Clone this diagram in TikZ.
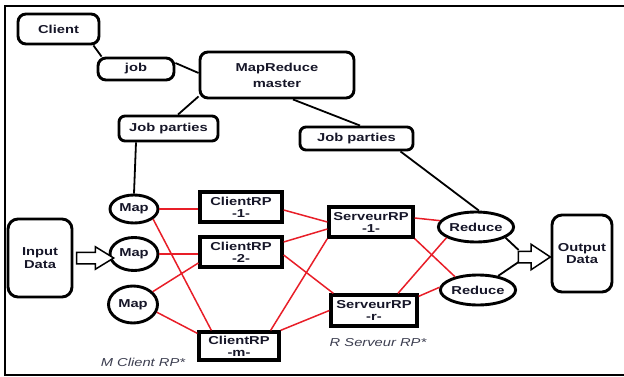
\documentclass[tikz,border=0pt]{standalone}
\usepackage{fontspec}
\setmainfont[FakeStretch=1.28]{Liberation Sans}
\usetikzlibrary{shapes.geometric,shapes.arrows,calc}
\definecolor{txt}{RGB}{22,22,40}
\definecolor{lbl}{RGB}{60,62,80}
\definecolor{redl}{RGB}{232,30,40}
\tikzset{
  rbox/.style={draw, line width=2.9pt, rounded corners=8pt, inner sep=0pt, align=center,
    font=\fontsize{11.5}{12.5}\selectfont\bfseries, text=txt},
  sbox/.style={draw, line width=3.3pt, inner sep=0pt, align=center,
    font=\fontsize{11.5}{12}\selectfont\bfseries, text=txt},
  ell/.style={draw, ellipse, line width=2.9pt, inner sep=0pt,
    font=\fontsize{11.5}{12}\selectfont\bfseries, text=txt},
  blk/.style={line width=1.8pt, black},
  rd/.style={line width=1.5pt, redl},
  harrow/.style={draw, single arrow, line width=1.5pt, inner xsep=0pt, inner ysep=5pt, fill=white},
  lab/.style={font=\fontsize{11.5}{12}\selectfont\itshape, text=lbl, inner sep=0pt}
}
\begin{document}
\begin{tikzpicture}[x=1pt,y=-1pt]
\useasboundingbox (0,0) rectangle (624,377);
% frame
\draw[line width=1.5pt] (624,6) -- (5,6) -- (5,375) -- (624,375);

% nodes
\node[rbox, minimum width=81, minimum height=30] (client) at (58.5,29) {Client};
\node[rbox, minimum width=76, minimum height=22] (job) at (136,69) {job};
\node[rbox, minimum width=154, minimum height=46, font=\fontsize{11.5}{16}\selectfont\bfseries] (master) at (277,75) {MapReduce\\master};
\node[rbox, rounded corners=6pt, minimum width=99, minimum height=25] (jp1) at (168.5,128.5) {Job parties};
\node[rbox, rounded corners=6pt, minimum width=113, minimum height=23] (jp2) at (356.5,138.5) {Job parties};

\node[ell, minimum width=48, minimum height=28] (map1) at (134,209) {Map};
\node[ell, minimum width=48, minimum height=33] (map2) at (134,254) {Map};
\node[ell, minimum width=49, minimum height=37] (map3) at (133,304.5) {Map};

\node[rbox, rounded corners=10pt, minimum width=64, minimum height=78] (input) at (40,258) {Input\\Data};
\node[rbox, rounded corners=10pt, minimum width=60, minimum height=77] (output) at (582,253.5) {Output\\Data};

\node[sbox, minimum width=82, minimum height=30] (crp1) at (241,207) {ClientRP\\-1-};
\node[sbox, minimum width=82, minimum height=30] (crp2) at (241,252) {ClientRP\\-2-};
\node[sbox, minimum width=80, minimum height=28] (crpm) at (239,346) {ClientRP\\-m-};
\node[sbox, minimum width=84, minimum height=30] (srp1) at (371,222) {ServeurRP\\-1-};
\node[sbox, minimum width=86, minimum height=31] (srpr) at (374,310.5) {ServeurRP\\-r-};

\node[ell, minimum width=72, minimum height=30] (red1) at (476,227) {Reduce};
\node[ell, minimum width=70, minimum height=30] (red2) at (478,290) {Reduce};

\node[lab] (mlab) at (143,362) {M Client RP*};
\node[lab] (rlab) at (378,343) {R Serveur RP*};

% hollow arrows
\node[harrow, minimum height=37, single arrow head extend=5.5pt, single arrow tip angle=63] (inarr) at (90.5,258) {};
\node[harrow, minimum height=32, single arrow head extend=7pt, single arrow tip angle=67] (outarr) at (530,257) {};

% black connectors
\draw[blk] ($(client.south east)+(-7,0)$) -- ($(job.north west)+(5,0)$);
\draw[blk] ($(job.east)+(0,-6)$) -- ($(master.west)+(0,-2)$);
\draw[blk] ($(master.south west)+(0,-3)$) -- ($(jp1.north)+(9.5,0)$);
\draw[blk] ($(jp1.south)+(-32.5,0)$) -- (map1.north);
\draw[blk] ($(master.south)+(16,0)$) -- ($(jp2.north)+(3.5,0)$);
\draw[blk] ($(jp2.south)+(44,0)$) -- (red1.80);
\draw[blk] (red1.-20) -- ($(outarr.tail)+(1,-7)$);
\draw[blk] (red2.35) -- ($(outarr.tail)+(1,5)$);

% red connectors
\draw[rd] (map1.east) -- (map1.east -| crp1.west);
\draw[rd] (map1.-28) -- ($(crpm.north west)+(14,0)$);
\draw[rd] (map2.east) -- (map2.east -| crp2.west);
\draw[rd] (map3.33) -- ($(crp2.west)+(0,11)$);
\draw[rd] (map3.-18) -- ($(crpm.north west)+(0,3)$);
\draw[rd] ($(crp1.east)+(0,3)$) -- (srp1.west);
\draw[rd] ($(crp2.east)+(0,-10)$) -- ($(srp1.west)+(0,7)$);
\draw[rd] ($(crp2.east)+(0,3)$) -- ($(srpr.north west)+(4,0)$);
\draw[rd] ($(crpm.north east)+(-10,0)$) -- (srp1.south west);
\draw[rd] (crpm.north east) -- (srpr.west);
\draw[rd] ($(srp1.east)+(0,-4)$) -- (red1.170);
\draw[rd] (srp1.south east) -- (red2.150);
\draw[rd] ($(srpr.north)+(24,0)$) -- (red1.200);
\draw[rd] ($(srpr.north east)+(0,3)$) -- (red2.176);
\end{tikzpicture}
\end{document}
